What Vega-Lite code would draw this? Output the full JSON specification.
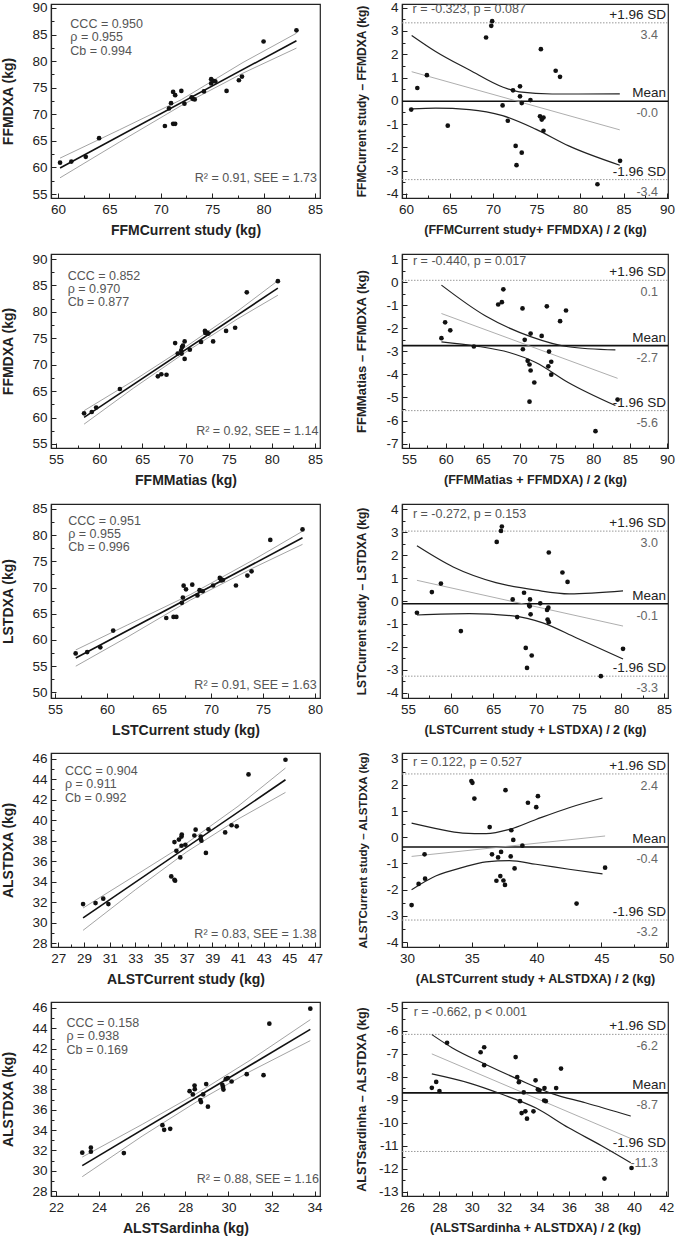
{
"$schema": "https://vega.github.io/schema/vega-lite/v6.json",
"padding": {"left": 0, "top": 0, "right": 0, "bottom": 0},
"config": {
  "font": "Liberation Sans",
  "view": {"stroke": "#222", "strokeWidth": 1.2},
  "axis": {"labelFont": "Liberation Sans", "labelFontSize": 13.5, "labelColor": "#222", "titleFont": "Liberation Sans", "titleFontSize": 14, "titleFontWeight": "bold", "titleColor": "#222", "tickColor": "#222", "domainColor": "#222", "domainWidth": 1.2, "grid": false, "labelPadding": 9, "tickSize": -5, "labelFlush": false, "labelOverlap": false, "titlePadding": 6}
},
"columns": 2,
"spacing": {"row": 12, "column": 30},
"datasets": {
"L1": [
{"k":"pt","x":60.2,"y":60.9},{"k":"pt","x":61.3,"y":61.1},{"k":"pt","x":62.7,"y":62.0},{"k":"pt","x":64.0,"y":65.5},{"k":"pt","x":70.4,"y":67.8},{"k":"pt","x":70.8,"y":71.1},{"k":"pt","x":71.0,"y":72.1},{"k":"pt","x":71.2,"y":74.2},{"k":"pt","x":71.4,"y":73.6},{"k":"pt","x":71.2,"y":68.2},{"k":"pt","x":71.4,"y":68.2},{"k":"pt","x":72.0,"y":74.4},{"k":"pt","x":72.3,"y":72.0},{"k":"pt","x":73.0,"y":73.2},{"k":"pt","x":73.1,"y":72.9},{"k":"pt","x":73.3,"y":72.8},{"k":"pt","x":74.2,"y":74.3},{"k":"pt","x":74.9,"y":76.6},{"k":"pt","x":74.9,"y":75.8},{"k":"pt","x":75.1,"y":76.3},{"k":"pt","x":75.3,"y":76.2},{"k":"pt","x":76.4,"y":74.4},{"k":"pt","x":77.6,"y":76.4},{"k":"pt","x":77.9,"y":77.1},{"k":"pt","x":80.0,"y":83.7},{"k":"pt","x":83.2,"y":85.8},
{"k":"fit","x":60.2,"y":59.9},{"k":"fit","x":83.2,"y":83.85},
{"k":"up","x":60.2,"y":61.75},{"k":"up","x":66,"y":67.1},{"k":"up","x":72,"y":72.75},{"k":"up","x":78,"y":79.75},{"k":"up","x":83.2,"y":85.25},
{"k":"lo","x":60.2,"y":58.05},{"k":"lo","x":66,"y":64.8},{"k":"lo","x":72,"y":71.65},{"k":"lo","x":78,"y":77.75},{"k":"lo","x":83.2,"y":82.45},
{"k":"stat","x":61.2,"y":87.0,"t":"CCC = 0.950"},{"k":"stat","x":61.2,"y":84.5,"t":"ρ = 0.955"},{"k":"stat","x":61.2,"y":82.0,"t":"Cb = 0.994"},
{"k":"r2","x":85.2,"y":58.1,"t":"R² = 0.91, SEE = 1.73"}
],
"R1": [
{"k":"pt","x":60.6,"y":-0.38},{"k":"pt","x":61.3,"y":0.55},{"k":"pt","x":62.4,"y":1.1},{"k":"pt","x":64.8,"y":-1.07},{"k":"pt","x":69.2,"y":2.72},{"k":"pt","x":69.8,"y":3.22},{"k":"pt","x":69.9,"y":3.42},{"k":"pt","x":71.1,"y":-0.2},{"k":"pt","x":71.7,"y":-0.86},{"k":"pt","x":72.3,"y":0.45},{"k":"pt","x":72.6,"y":-1.94},{"k":"pt","x":72.7,"y":-2.77},{"k":"pt","x":73.1,"y":0.62},{"k":"pt","x":73.1,"y":0.19},{"k":"pt","x":73.3,"y":-0.1},{"k":"pt","x":73.3,"y":-2.23},{"k":"pt","x":74.3,"y":0.03},{"k":"pt","x":75.5,"y":2.22},{"k":"pt","x":75.4,"y":-0.67},{"k":"pt","x":75.6,"y":-0.81},{"k":"pt","x":75.8,"y":-0.72},{"k":"pt","x":75.8,"y":-1.29},{"k":"pt","x":77.2,"y":1.29},{"k":"pt","x":77.7,"y":1.03},{"k":"pt","x":82.0,"y":-3.59},{"k":"pt","x":84.6,"y":-2.58},
{"k":"mean","x":59.54,"x2":90.11,"y":-0.02},
{"k":"sd","x":59.54,"x2":90.11,"y":3.35},{"k":"sd","x":59.54,"x2":90.11,"y":-3.39},
{"k":"reg","x":60.65,"y":1.25},{"k":"reg","x":84.57,"y":-1.25},
{"k":"cu","x":60.65,"y":2.81},{"k":"cu","x":63.4,"y":2.12},{"k":"cu","x":67.3,"y":1.32},{"k":"cu","x":71.1,"y":0.59},{"k":"cu","x":73.0,"y":0.38},{"k":"cu","x":76.8,"y":0.29},{"k":"cu","x":84.57,"y":0.3},
{"k":"cl","x":60.65,"y":-0.35},{"k":"cl","x":63.4,"y":-0.32},{"k":"cl","x":67.3,"y":-0.38},{"k":"cl","x":71.1,"y":-0.64},{"k":"cl","x":74.9,"y":-1.22},{"k":"cl","x":78.7,"y":-1.94},{"k":"cl","x":84.57,"y":-2.77},
{"k":"rt","x":60.76,"y":3.93,"t":"r = -0.323, p = 0.087"},
{"k":"lab","x":90.11,"y":3.35,"t":"+1.96 SD"},{"k":"lab","x":90.11,"y":-0.02,"t":"Mean"},{"k":"lab","x":90.11,"y":-3.39,"t":"-1.96 SD"},
{"k":"val","x":90.11,"y":3.35,"t":"3.4"},{"k":"val","x":90.11,"y":-0.02,"t":"-0.0"},{"k":"val","x":90.11,"y":-3.39,"t":"-3.4"}
],
"L2": [
{"k":"pt","x":58.25,"y":60.8},{"k":"pt","x":59.14,"y":61.05},{"k":"pt","x":59.65,"y":61.9},{"k":"pt","x":62.4,"y":65.4},{"k":"pt","x":66.8,"y":67.8},{"k":"pt","x":67.2,"y":68.2},{"k":"pt","x":67.8,"y":68.1},{"k":"pt","x":68.8,"y":74.1},{"k":"pt","x":69.1,"y":72.1},{"k":"pt","x":69.5,"y":72.7},{"k":"pt","x":69.6,"y":73.35},{"k":"pt","x":69.7,"y":73.6},{"k":"pt","x":69.55,"y":72.1},{"k":"pt","x":69.9,"y":74.4},{"k":"pt","x":69.9,"y":71.1},{"k":"pt","x":70.5,"y":72.85},{"k":"pt","x":71.8,"y":74.3},{"k":"pt","x":72.25,"y":76.4},{"k":"pt","x":72.3,"y":76.0},{"k":"pt","x":72.5,"y":76.1},{"k":"pt","x":72.65,"y":75.9},{"k":"pt","x":73.2,"y":74.4},{"k":"pt","x":74.7,"y":76.4},{"k":"pt","x":75.75,"y":77.0},{"k":"pt","x":77.1,"y":83.7},{"k":"pt","x":80.7,"y":85.8},
{"k":"fit","x":58.25,"y":60.05},{"k":"fit","x":80.7,"y":84.5},
{"k":"up","x":58.25,"y":61.3},{"k":"up","x":64,"y":67.0},{"k":"up","x":70,"y":73.35},{"k":"up","x":76,"y":80.1},{"k":"up","x":80.7,"y":85.9},
{"k":"lo","x":58.25,"y":58.75},{"k":"lo","x":64,"y":65.6},{"k":"lo","x":70,"y":72.35},{"k":"lo","x":76,"y":78.65},{"k":"lo","x":80.7,"y":83.15},
{"k":"stat","x":56.35,"y":86.85,"t":"CCC = 0.852"},{"k":"stat","x":56.35,"y":84.3,"t":"ρ = 0.970"},{"k":"stat","x":56.35,"y":81.8,"t":"Cb = 0.877"},
{"k":"r2","x":85.4,"y":57.4,"t":"R² = 0.92, SEE = 1.14"}
],
"R2": [
{"k":"pt","x":59.4,"y":-2.43},{"k":"pt","x":59.9,"y":-1.74},{"k":"pt","x":60.6,"y":-2.09},{"k":"pt","x":63.8,"y":-2.79},{"k":"pt","x":67.1,"y":-0.97},{"k":"pt","x":67.6,"y":-0.87},{"k":"pt","x":67.8,"y":-0.31},{"k":"pt","x":70.4,"y":-1.14},{"k":"pt","x":70.45,"y":-2.91},{"k":"pt","x":70.7,"y":-2.5},{"k":"pt","x":71.1,"y":-3.41},{"k":"pt","x":71.35,"y":-3.57},{"k":"pt","x":71.35,"y":-5.18},{"k":"pt","x":71.5,"y":-3.83},{"k":"pt","x":71.5,"y":-2.23},{"k":"pt","x":72.0,"y":-4.35},{"k":"pt","x":73.0,"y":-2.33},{"k":"pt","x":73.7,"y":-1.05},{"k":"pt","x":74.0,"y":-3.01},{"k":"pt","x":73.9,"y":-3.65},{"k":"pt","x":74.3,"y":-3.45},{"k":"pt","x":74.3,"y":-4.01},{"k":"pt","x":75.5,"y":-1.69},{"k":"pt","x":76.3,"y":-1.23},{"k":"pt","x":80.3,"y":-6.46},{"k":"pt","x":83.3,"y":-5.09},
{"k":"mean","x":54.05,"x2":90.14,"y":-2.75},
{"k":"sd","x":54.05,"x2":90.14,"y":0.08},{"k":"sd","x":54.05,"x2":90.14,"y":-5.57},
{"k":"reg","x":59.4,"y":-1.36},{"k":"reg","x":83.3,"y":-4.17},
{"k":"cu","x":59.4,"y":-0.13},{"k":"cu","x":65.4,"y":-1.47},{"k":"cu","x":71.5,"y":-2.36},{"k":"cu","x":76.6,"y":-2.8},{"k":"cu","x":83.0,"y":-2.94},
{"k":"cl","x":59.4,"y":-2.59},{"k":"cl","x":64.1,"y":-2.77},{"k":"cl","x":68.6,"y":-3.05},{"k":"cl","x":72.2,"y":-3.48},{"k":"cl","x":76.6,"y":-4.35},{"k":"cl","x":83.0,"y":-5.35},
{"k":"rt","x":55.54,"y":0.9,"t":"r = -0.440, p = 0.017"},
{"k":"lab","x":90.14,"y":0.08,"t":"+1.96 SD"},{"k":"lab","x":90.14,"y":-2.75,"t":"Mean"},{"k":"lab","x":90.14,"y":-5.57,"t":"-1.96 SD"},
{"k":"val","x":90.14,"y":0.08,"t":"0.1"},{"k":"val","x":90.14,"y":-2.75,"t":"-2.7"},{"k":"val","x":90.14,"y":-5.57,"t":"-5.6"}
],
"L3": [
{"k":"pt","x":56.99,"y":57.44},{"k":"pt","x":58.1,"y":57.7},{"k":"pt","x":59.36,"y":58.6},{"k":"pt","x":60.6,"y":61.8},{"k":"pt","x":65.7,"y":64.2},{"k":"pt","x":66.4,"y":64.4},{"k":"pt","x":66.67,"y":64.4},{"k":"pt","x":67.2,"y":67.1},{"k":"pt","x":67.3,"y":68.1},{"k":"pt","x":67.37,"y":70.36},{"k":"pt","x":67.6,"y":69.66},{"k":"pt","x":68.2,"y":70.55},{"k":"pt","x":68.7,"y":68.5},{"k":"pt","x":68.9,"y":69.5},{"k":"pt","x":69.2,"y":69.3},{"k":"pt","x":70.2,"y":70.4},{"k":"pt","x":70.85,"y":71.85},{"k":"pt","x":70.95,"y":71.6},{"k":"pt","x":71.0,"y":71.35},{"k":"pt","x":71.15,"y":71.45},{"k":"pt","x":72.4,"y":70.4},{"k":"pt","x":73.5,"y":72.3},{"k":"pt","x":73.9,"y":73.1},{"k":"pt","x":75.7,"y":79.1},{"k":"pt","x":78.8,"y":81.1},
{"k":"fit","x":57.0,"y":56.55},{"k":"fit","x":78.8,"y":79.5},
{"k":"up","x":57,"y":58.1},{"k":"up","x":62,"y":62.9},{"k":"up","x":68,"y":68.65},{"k":"up","x":74,"y":75.2},{"k":"up","x":78.8,"y":80.75},
{"k":"lo","x":57,"y":55.0},{"k":"lo","x":62,"y":60.6},{"k":"lo","x":68,"y":67.6},{"k":"lo","x":74,"y":73.7},{"k":"lo","x":78.8,"y":78.25},
{"k":"stat","x":56.28,"y":82.77,"t":"CCC = 0.951"},{"k":"stat","x":56.28,"y":80.2,"t":"ρ = 0.955"},{"k":"stat","x":56.28,"y":77.7,"t":"Cb = 0.996"},
{"k":"r2","x":80.16,"y":51.4,"t":"R² = 0.91, SEE = 1.63"}
],
"R3": [
{"k":"pt","x":56.05,"y":-0.51},{"k":"pt","x":57.8,"y":0.39},{"k":"pt","x":58.86,"y":0.76},{"k":"pt","x":61.2,"y":-1.31},{"k":"pt","x":65.4,"y":2.57},{"k":"pt","x":65.9,"y":3.05},{"k":"pt","x":66.0,"y":3.24},{"k":"pt","x":67.27,"y":0.07},{"k":"pt","x":67.8,"y":-0.7},{"k":"pt","x":68.6,"y":0.36},{"k":"pt","x":68.8,"y":-2.04},{"k":"pt","x":68.95,"y":-2.91},{"k":"pt","x":69.2,"y":-0.17},{"k":"pt","x":69.26,"y":-0.23},{"k":"pt","x":69.3,"y":0.07},{"k":"pt","x":69.37,"y":-0.58},{"k":"pt","x":69.5,"y":-2.37},{"k":"pt","x":70.5,"y":-0.1},{"k":"pt","x":71.3,"y":-0.39},{"k":"pt","x":71.45,"y":-0.29},{"k":"pt","x":71.36,"y":-0.81},{"k":"pt","x":71.5,"y":-0.92},{"k":"pt","x":71.5,"y":2.11},{"k":"pt","x":73.1,"y":1.24},{"k":"pt","x":73.7,"y":0.83},{"k":"pt","x":77.6,"y":-3.27},{"k":"pt","x":80.2,"y":-2.08},
{"k":"mean","x":54.3,"x2":85.47,"y":-0.12},
{"k":"sd","x":54.3,"x2":85.47,"y":3.04},{"k":"sd","x":54.3,"x2":85.47,"y":-3.27},
{"k":"reg","x":56.05,"y":0.9},{"k":"reg","x":80.2,"y":-1.09},
{"k":"cu","x":56.05,"y":2.4},{"k":"cu","x":60.3,"y":1.48},{"k":"cu","x":65.3,"y":0.8},{"k":"cu","x":70.0,"y":0.47},{"k":"cu","x":73.9,"y":0.31},{"k":"cu","x":80.2,"y":0.44},
{"k":"cl","x":56.05,"y":-0.61},{"k":"cl","x":62.2,"y":-0.55},{"k":"cl","x":67.3,"y":-0.65},{"k":"cl","x":70.8,"y":-0.95},{"k":"cl","x":74.7,"y":-1.6},{"k":"cl","x":80.2,"y":-2.52},
{"k":"rt","x":55.58,"y":3.78,"t":"r = -0.272, p = 0.153"},
{"k":"lab","x":85.47,"y":3.04,"t":"+1.96 SD"},{"k":"lab","x":85.47,"y":-0.12,"t":"Mean"},{"k":"lab","x":85.47,"y":-3.27,"t":"-1.96 SD"},
{"k":"val","x":85.47,"y":3.04,"t":"3.0"},{"k":"val","x":85.47,"y":-0.12,"t":"-0.1"},{"k":"val","x":85.47,"y":-3.27,"t":"-3.3"}
],
"L4": [
{"k":"pt","x":28.93,"y":31.8},{"k":"pt","x":29.9,"y":31.9},{"k":"pt","x":30.5,"y":32.33},{"k":"pt","x":30.9,"y":31.8},{"k":"pt","x":35.8,"y":34.5},{"k":"pt","x":36.05,"y":34.18},{"k":"pt","x":36.1,"y":34.08},{"k":"pt","x":36.05,"y":37.86},{"k":"pt","x":36.2,"y":37.0},{"k":"pt","x":36.4,"y":38.1},{"k":"pt","x":36.5,"y":36.36},{"k":"pt","x":36.6,"y":38.4},{"k":"pt","x":36.62,"y":38.6},{"k":"pt","x":36.6,"y":37.5},{"k":"pt","x":36.9,"y":37.6},{"k":"pt","x":37.6,"y":38.5},{"k":"pt","x":37.7,"y":39.07},{"k":"pt","x":38.1,"y":38.4},{"k":"pt","x":38.1,"y":38.15},{"k":"pt","x":38.15,"y":37.99},{"k":"pt","x":38.5,"y":36.8},{"k":"pt","x":38.7,"y":39.1},{"k":"pt","x":40.0,"y":38.8},{"k":"pt","x":40.5,"y":39.5},{"k":"pt","x":40.9,"y":39.4},{"k":"pt","x":41.82,"y":44.47},{"k":"pt","x":44.7,"y":45.9},
{"k":"fit","x":28.93,"y":30.45},{"k":"fit","x":44.7,"y":43.95},
{"k":"up","x":28.93,"y":31.42},{"k":"up","x":33,"y":34.6},{"k":"up","x":37,"y":37.75},{"k":"up","x":41,"y":41.35},{"k":"up","x":44.7,"y":45.09},
{"k":"lo","x":28.93,"y":29.24},{"k":"lo","x":33,"y":33.2},{"k":"lo","x":37,"y":36.9},{"k":"lo","x":41,"y":40.1},{"k":"lo","x":44.7,"y":42.71},
{"k":"stat","x":27.52,"y":44.76,"t":"CCC = 0.904"},{"k":"stat","x":27.52,"y":43.5,"t":"ρ = 0.911"},{"k":"stat","x":27.52,"y":42.2,"t":"Cb = 0.992"},
{"k":"r2","x":47.13,"y":28.88,"t":"R² = 0.83, SEE = 1.38"}
],
"R4": [
{"k":"pt","x":30.36,"y":-2.59},{"k":"pt","x":30.9,"y":-1.78},{"k":"pt","x":31.36,"y":-0.65},{"k":"pt","x":31.4,"y":-1.58},{"k":"pt","x":34.97,"y":2.15},{"k":"pt","x":35.05,"y":2.08},{"k":"pt","x":35.2,"y":1.48},{"k":"pt","x":36.38,"y":0.39},{"k":"pt","x":36.56,"y":-0.65},{"k":"pt","x":36.9,"y":-1.66},{"k":"pt","x":37.03,"y":-0.77},{"k":"pt","x":37.2,"y":-1.48},{"k":"pt","x":37.26,"y":-0.56},{"k":"pt","x":37.44,"y":-1.65},{"k":"pt","x":37.56,"y":-1.82},{"k":"pt","x":37.6,"y":1.8},{"k":"pt","x":38.0,"y":-0.73},{"k":"pt","x":38.05,"y":0.27},{"k":"pt","x":38.2,"y":-0.1},{"k":"pt","x":38.3,"y":-1.19},{"k":"pt","x":38.9,"y":-0.32},{"k":"pt","x":39.33,"y":1.32},{"k":"pt","x":39.97,"y":1.15},{"k":"pt","x":40.1,"y":1.57},{"k":"pt","x":43.08,"y":-2.53},{"k":"pt","x":45.28,"y":-1.16},
{"k":"mean","x":29.62,"x2":50.13,"y":-0.37},
{"k":"sd","x":29.62,"x2":50.13,"y":2.42},{"k":"sd","x":29.62,"x2":50.13,"y":-3.16},
{"k":"reg","x":30.36,"y":-0.73},{"k":"reg","x":45.28,"y":0.05},
{"k":"cu","x":30.36,"y":0.54},{"k":"cu","x":32.26,"y":0.33},{"k":"cu","x":34.3,"y":0.16},{"k":"cu","x":36.1,"y":0.14},{"k":"cu","x":37.9,"y":0.3},{"k":"cu","x":39.95,"y":0.68},{"k":"cu","x":42.5,"y":1.13},{"k":"cu","x":45.08,"y":1.5},
{"k":"cl","x":30.36,"y":-2.0},{"k":"cl","x":32.26,"y":-1.47},{"k":"cl","x":34.3,"y":-1.15},{"k":"cl","x":36.1,"y":-0.94},{"k":"cl","x":37.9,"y":-0.89},{"k":"cl","x":39.95,"y":-1.03},{"k":"cl","x":42.5,"y":-1.22},{"k":"cl","x":45.08,"y":-1.4},
{"k":"rt","x":30.46,"y":2.86,"t":"r = 0.122, p = 0.527"},
{"k":"lab","x":50.13,"y":2.42,"t":"+1.96 SD"},{"k":"lab","x":50.13,"y":-0.37,"t":"Mean"},{"k":"lab","x":50.13,"y":-3.16,"t":"-1.96 SD"},
{"k":"val","x":50.13,"y":2.42,"t":"2.4"},{"k":"val","x":50.13,"y":-0.37,"t":"-0.4"},{"k":"val","x":50.13,"y":-3.16,"t":"-3.2"}
],
"L5": [
{"k":"pt","x":23.22,"y":31.77},{"k":"pt","x":23.62,"y":32.26},{"k":"pt","x":23.62,"y":31.86},{"k":"pt","x":25.15,"y":31.73},{"k":"pt","x":26.94,"y":34.48},{"k":"pt","x":27.02,"y":34.02},{"k":"pt","x":27.3,"y":34.12},{"k":"pt","x":28.2,"y":37.82},{"k":"pt","x":28.35,"y":37.5},{"k":"pt","x":28.43,"y":38.38},{"k":"pt","x":28.44,"y":38.02},{"k":"pt","x":28.7,"y":36.94},{"k":"pt","x":28.73,"y":36.75},{"k":"pt","x":28.83,"y":37.5},{"k":"pt","x":28.97,"y":38.52},{"k":"pt","x":29.05,"y":36.3},{"k":"pt","x":29.72,"y":38.44},{"k":"pt","x":29.75,"y":38.24},{"k":"pt","x":29.77,"y":37.98},{"k":"pt","x":29.88,"y":39.0},{"k":"pt","x":29.97,"y":39.1},{"k":"pt","x":30.15,"y":38.77},{"k":"pt","x":30.85,"y":39.49},{"k":"pt","x":31.63,"y":39.39},{"k":"pt","x":31.9,"y":44.46},{"k":"pt","x":33.8,"y":45.93},
{"k":"fit","x":23.22,"y":30.5},{"k":"fit","x":33.8,"y":43.9},
{"k":"up","x":23.22,"y":31.34},{"k":"up","x":26,"y":34.55},{"k":"up","x":28.5,"y":37.55},{"k":"up","x":31,"y":40.85},{"k":"up","x":33.8,"y":44.85},
{"k":"lo","x":23.22,"y":29.41},{"k":"lo","x":26,"y":33.4},{"k":"lo","x":28.5,"y":36.74},{"k":"lo","x":31,"y":39.75},{"k":"lo","x":33.8,"y":42.79},
{"k":"stat","x":22.49,"y":44.56,"t":"CCC = 0.158"},{"k":"stat","x":22.49,"y":43.2,"t":"ρ = 0.938"},{"k":"stat","x":22.49,"y":41.9,"t":"Cb = 0.169"},
{"k":"r2","x":34.2,"y":29.15,"t":"R² = 0.88, SEE = 1.16"}
],
"R5": [
{"k":"pt","x":27.53,"y":-8.48},{"k":"pt","x":27.8,"y":-8.22},{"k":"pt","x":28.0,"y":-8.62},{"k":"pt","x":28.47,"y":-6.52},{"k":"pt","x":30.54,"y":-6.93},{"k":"pt","x":30.76,"y":-6.71},{"k":"pt","x":30.76,"y":-7.49},{"k":"pt","x":32.7,"y":-7.14},{"k":"pt","x":32.8,"y":-8.01},{"k":"pt","x":32.9,"y":-8.23},{"k":"pt","x":32.97,"y":-9.06},{"k":"pt","x":33.07,"y":-9.58},{"k":"pt","x":33.2,"y":-8.68},{"k":"pt","x":33.3,"y":-9.5},{"k":"pt","x":33.4,"y":-9.82},{"k":"pt","x":33.8,"y":-9.5},{"k":"pt","x":33.93,"y":-8.15},{"k":"pt","x":34.07,"y":-8.55},{"k":"pt","x":34.17,"y":-8.6},{"k":"pt","x":34.48,"y":-8.49},{"k":"pt","x":34.46,"y":-9.03},{"k":"pt","x":34.56,"y":-9.06},{"k":"pt","x":35.2,"y":-8.49},{"k":"pt","x":35.5,"y":-7.64},{"k":"pt","x":38.18,"y":-12.43},{"k":"pt","x":39.85,"y":-11.97},
{"k":"mean","x":25.69,"x2":42.1,"y":-8.7},
{"k":"sd","x":25.69,"x2":42.1,"y":-6.15},{"k":"sd","x":25.69,"x2":42.1,"y":-11.25},
{"k":"reg","x":27.53,"y":-7.0},{"k":"reg","x":39.85,"y":-10.7},
{"k":"cu","x":27.53,"y":-6.16},{"k":"cu","x":28.8,"y":-6.74},{"k":"cu","x":30.86,"y":-7.46},{"k":"cu","x":32.9,"y":-8.12},{"k":"cu","x":35.0,"y":-8.74},{"k":"cu","x":37.0,"y":-9.13},{"k":"cu","x":39.8,"y":-9.71},
{"k":"cl","x":27.53,"y":-7.87},{"k":"cl","x":29.8,"y":-8.26},{"k":"cl","x":31.9,"y":-8.77},{"k":"cl","x":33.93,"y":-9.35},{"k":"cl","x":35.97,"y":-10.22},{"k":"cl","x":38.0,"y":-11.0},{"k":"cl","x":39.8,"y":-11.74},
{"k":"rt","x":26.41,"y":-5.17,"t":"r = -0.662, p < 0.001"},
{"k":"lab","x":42.1,"y":-6.15,"t":"+1.96 SD"},{"k":"lab","x":42.1,"y":-8.7,"t":"Mean"},{"k":"lab","x":42.1,"y":-11.25,"t":"-1.96 SD"},
{"k":"val","x":42.1,"y":-6.15,"t":"-6.2"},{"k":"val","x":42.1,"y":-8.7,"t":"-8.7"},{"k":"val","x":42.1,"y":-11.25,"t":"-11.3"}
]
},
"concat": [
{"width":269,"height":194,"data":{"name":"L1"},
 "encoding":{
  "x":{"field":"x","type":"quantitative","scale":{"domain":[59.32,85.49],"nice":false,"zero":false},"axis":{"title":"FFMCurrent study (kg)","values":[60,62.5,65,67.5,70,72.5,75,77.5,80,82.5,85],"labelExpr":"datum.value % 5 === 0 ? '' + datum.value : ''","tickSize":{"condition":{"test":"datum.value % 5 !== 0","value":-3},"value":-5}}},
  "y":{"field":"y","type":"quantitative","scale":{"domain":[54.25,90.75],"nice":false,"zero":false},"axis":{"title":"FFMDXA (kg)","titleX":-36,"titleY":97,"values":[55,57.5,60,62.5,65,67.5,70,72.5,75,77.5,80,82.5,85,87.5,90],"labelExpr":"datum.value % 5 === 0 ? '' + datum.value : ''","tickSize":{"condition":{"test":"datum.value % 5 !== 0","value":-3},"value":-5}}}},
 "layer":[
  {"transform":[{"filter":"datum.k === 'up' || datum.k === 'lo'"}],"mark":{"type":"line","stroke":"#8c8c8c","strokeWidth":0.8},"encoding":{"detail":{"field":"k"}}},
  {"transform":[{"filter":"datum.k === 'fit'"}],"mark":{"type":"line","stroke":"#111","strokeWidth":1.6},"encoding":{}},
  {"transform":[{"filter":"datum.k === 'pt'"}],"mark":{"type":"circle","size":22,"color":"#111","opacity":1}},
  {"transform":[{"filter":"datum.k === 'stat'"}],"mark":{"type":"text","align":"left","baseline":"middle","fontSize":12.5,"color":"#555"},"encoding":{"text":{"field":"t"}}},
  {"transform":[{"filter":"datum.k === 'r2'"}],"mark":{"type":"text","align":"right","baseline":"middle","fontSize":12.5,"color":"#555"},"encoding":{"text":{"field":"t"}}}
 ]},
{"width":266,"height":194,"data":{"name":"R1"},
 "encoding":{
  "x":{"field":"x","type":"quantitative","scale":{"domain":[59.54,90.11],"nice":false,"zero":false},"axis":{"title":"(FFMCurrent study+ FFMDXA) / 2 (kg)","titleFontSize":12.5,"values":[60,62.5,65,67.5,70,72.5,75,77.5,80,82.5,85,87.5,90],"labelExpr":"datum.value % 5 === 0 ? '' + datum.value : ''","tickSize":{"condition":{"test":"datum.value % 5 !== 0","value":-3},"value":-5}}},
  "y":{"field":"y","type":"quantitative","scale":{"domain":[-4.18,4.16],"nice":false,"zero":false},"axis":{"title":"FFMCurrent study – FFMDXA (kg)","titleFontSize":12,"titleX":-34,"titleY":97,"values":[-4,-3.5,-3,-2.5,-2,-1.5,-1,-0.5,0,0.5,1,1.5,2,2.5,3,3.5,4],"labelExpr":"datum.value % 1 === 0 ? '' + datum.value : ''","tickSize":{"condition":{"test":"datum.value % 1 !== 0","value":-3},"value":-5}}}},
 "layer":[
  {"transform":[{"filter":"datum.k === 'sd'"}],"mark":{"type":"rule","stroke":"#999","strokeWidth":1,"strokeDash":[1.5,1.5]},"encoding":{"x2":{"field":"x2"}}},
  {"transform":[{"filter":"datum.k === 'mean'"}],"mark":{"type":"rule","stroke":"#111","strokeWidth":1.6},"encoding":{"x2":{"field":"x2"}}},
  {"transform":[{"filter":"datum.k === 'reg'"}],"mark":{"type":"line","stroke":"#999","strokeWidth":0.8},"encoding":{}},
  {"transform":[{"filter":"datum.k === 'cu' || datum.k === 'cl'"}],"mark":{"type":"line","stroke":"#222","strokeWidth":1.2,"interpolate":"monotone"},"encoding":{"detail":{"field":"k"}}},
  {"transform":[{"filter":"datum.k === 'pt'"}],"mark":{"type":"circle","size":22,"color":"#111","opacity":1}},
  {"transform":[{"filter":"datum.k === 'rt'"}],"mark":{"type":"text","align":"left","baseline":"middle","fontSize":12.5,"color":"#555"},"encoding":{"text":{"field":"t"}}},
  {"transform":[{"filter":"datum.k === 'lab'"}],"mark":{"type":"text","align":"right","baseline":"alphabetic","dx":-2,"dy":-4,"fontSize":13.5,"color":"#222"},"encoding":{"text":{"field":"t"}}},
  {"transform":[{"filter":"datum.k === 'val'"}],"mark":{"type":"text","align":"right","baseline":"top","dx":-10,"dy":6,"fontSize":12.5,"color":"#666"},"encoding":{"text":{"field":"t"}}}
 ]},
{"width":269,"height":194,"data":{"name":"L2"},
 "encoding":{
  "x":{"field":"x","type":"quantitative","scale":{"domain":[54.42,85.58],"nice":false,"zero":false},"axis":{"title":"FFMMatias (kg)","values":[55,57.5,60,62.5,65,67.5,70,72.5,75,77.5,80,82.5,85],"labelExpr":"datum.value % 5 === 0 ? '' + datum.value : ''","tickSize":{"condition":{"test":"datum.value % 5 !== 0","value":-3},"value":-5}}},
  "y":{"field":"y","type":"quantitative","scale":{"domain":[54.24,90.95],"nice":false,"zero":false},"axis":{"title":"FFMDXA (kg)","titleX":-36,"titleY":97,"values":[55,57.5,60,62.5,65,67.5,70,72.5,75,77.5,80,82.5,85,87.5,90],"labelExpr":"datum.value % 5 === 0 ? '' + datum.value : ''","tickSize":{"condition":{"test":"datum.value % 5 !== 0","value":-3},"value":-5}}}},
 "layer":[
  {"transform":[{"filter":"datum.k === 'up' || datum.k === 'lo'"}],"mark":{"type":"line","stroke":"#8c8c8c","strokeWidth":0.8},"encoding":{"detail":{"field":"k"}}},
  {"transform":[{"filter":"datum.k === 'fit'"}],"mark":{"type":"line","stroke":"#111","strokeWidth":1.6},"encoding":{}},
  {"transform":[{"filter":"datum.k === 'pt'"}],"mark":{"type":"circle","size":22,"color":"#111","opacity":1}},
  {"transform":[{"filter":"datum.k === 'stat'"}],"mark":{"type":"text","align":"left","baseline":"middle","fontSize":12.5,"color":"#555"},"encoding":{"text":{"field":"t"}}},
  {"transform":[{"filter":"datum.k === 'r2'"}],"mark":{"type":"text","align":"right","baseline":"middle","fontSize":12.5,"color":"#555"},"encoding":{"text":{"field":"t"}}}
 ]},
{"width":266,"height":194,"data":{"name":"R2"},
 "encoding":{
  "x":{"field":"x","type":"quantitative","scale":{"domain":[54.05,90.14],"nice":false,"zero":false},"axis":{"title":"(FFMMatias + FFMDXA) / 2 (kg)","titleFontSize":12.5,"values":[55,57.5,60,62.5,65,67.5,70,72.5,75,77.5,80,82.5,85,87.5,90],"labelExpr":"datum.value % 5 === 0 ? '' + datum.value : ''","tickSize":{"condition":{"test":"datum.value % 5 !== 0","value":-3},"value":-5}}},
  "y":{"field":"y","type":"quantitative","scale":{"domain":[-7.19,1.22],"nice":false,"zero":false},"axis":{"title":"FFMMatias – FFMDXA (kg)","titleFontSize":13,"titleX":-34,"titleY":97,"values":[-7,-6.5,-6,-5.5,-5,-4.5,-4,-3.5,-3,-2.5,-2,-1.5,-1,-0.5,0,0.5,1],"labelExpr":"datum.value % 1 === 0 ? '' + datum.value : ''","tickSize":{"condition":{"test":"datum.value % 1 !== 0","value":-3},"value":-5}}}},
 "layer":[
  {"transform":[{"filter":"datum.k === 'sd'"}],"mark":{"type":"rule","stroke":"#999","strokeWidth":1,"strokeDash":[1.5,1.5]},"encoding":{"x2":{"field":"x2"}}},
  {"transform":[{"filter":"datum.k === 'mean'"}],"mark":{"type":"rule","stroke":"#111","strokeWidth":1.6},"encoding":{"x2":{"field":"x2"}}},
  {"transform":[{"filter":"datum.k === 'reg'"}],"mark":{"type":"line","stroke":"#999","strokeWidth":0.8},"encoding":{}},
  {"transform":[{"filter":"datum.k === 'cu' || datum.k === 'cl'"}],"mark":{"type":"line","stroke":"#222","strokeWidth":1.2,"interpolate":"monotone"},"encoding":{"detail":{"field":"k"}}},
  {"transform":[{"filter":"datum.k === 'pt'"}],"mark":{"type":"circle","size":22,"color":"#111","opacity":1}},
  {"transform":[{"filter":"datum.k === 'rt'"}],"mark":{"type":"text","align":"left","baseline":"middle","fontSize":12.5,"color":"#555"},"encoding":{"text":{"field":"t"}}},
  {"transform":[{"filter":"datum.k === 'lab'"}],"mark":{"type":"text","align":"right","baseline":"alphabetic","dx":-2,"dy":-4,"fontSize":13.5,"color":"#222"},"encoding":{"text":{"field":"t"}}},
  {"transform":[{"filter":"datum.k === 'val'"}],"mark":{"type":"text","align":"right","baseline":"top","dx":-10,"dy":6,"fontSize":12.5,"color":"#666"},"encoding":{"text":{"field":"t"}}}
 ]},
{"width":269,"height":194,"data":{"name":"L3"},
 "encoding":{
  "x":{"field":"x","type":"quantitative","scale":{"domain":[54.62,80.48],"nice":false,"zero":false},"axis":{"title":"LSTCurrent study (kg)","values":[55,57.5,60,62.5,65,67.5,70,72.5,75,77.5,80],"labelExpr":"datum.value % 5 === 0 ? '' + datum.value : ''","tickSize":{"condition":{"test":"datum.value % 5 !== 0","value":-3},"value":-5}}},
  "y":{"field":"y","type":"quantitative","scale":{"domain":[48.93,85.95],"nice":false,"zero":false},"axis":{"title":"LSTDXA (kg)","titleX":-36,"titleY":97,"values":[50,52.5,55,57.5,60,62.5,65,67.5,70,72.5,75,77.5,80,82.5,85],"labelExpr":"datum.value % 5 === 0 ? '' + datum.value : ''","tickSize":{"condition":{"test":"datum.value % 5 !== 0","value":-3},"value":-5}}}},
 "layer":[
  {"transform":[{"filter":"datum.k === 'up' || datum.k === 'lo'"}],"mark":{"type":"line","stroke":"#8c8c8c","strokeWidth":0.8},"encoding":{"detail":{"field":"k"}}},
  {"transform":[{"filter":"datum.k === 'fit'"}],"mark":{"type":"line","stroke":"#111","strokeWidth":1.6},"encoding":{}},
  {"transform":[{"filter":"datum.k === 'pt'"}],"mark":{"type":"circle","size":22,"color":"#111","opacity":1}},
  {"transform":[{"filter":"datum.k === 'stat'"}],"mark":{"type":"text","align":"left","baseline":"middle","fontSize":12.5,"color":"#555"},"encoding":{"text":{"field":"t"}}},
  {"transform":[{"filter":"datum.k === 'r2'"}],"mark":{"type":"text","align":"right","baseline":"middle","fontSize":12.5,"color":"#555"},"encoding":{"text":{"field":"t"}}}
 ]},
{"width":266,"height":194,"data":{"name":"R3"},
 "encoding":{
  "x":{"field":"x","type":"quantitative","scale":{"domain":[54.3,85.47],"nice":false,"zero":false},"axis":{"title":"(LSTCurrent study + LSTDXA) / 2 (kg)","titleFontSize":12.5,"values":[55,57.5,60,62.5,65,67.5,70,72.5,75,77.5,80,82.5,85],"labelExpr":"datum.value % 5 === 0 ? '' + datum.value : ''","tickSize":{"condition":{"test":"datum.value % 5 !== 0","value":-3},"value":-5}}},
  "y":{"field":"y","type":"quantitative","scale":{"domain":[-4.22,4.22],"nice":false,"zero":false},"axis":{"title":"LSTCurrent study – LSTDXA (kg)","titleFontSize":12,"titleX":-34,"titleY":97,"values":[-4,-3.5,-3,-2.5,-2,-1.5,-1,-0.5,0,0.5,1,1.5,2,2.5,3,3.5,4],"labelExpr":"datum.value % 1 === 0 ? '' + datum.value : ''","tickSize":{"condition":{"test":"datum.value % 1 !== 0","value":-3},"value":-5}}}},
 "layer":[
  {"transform":[{"filter":"datum.k === 'sd'"}],"mark":{"type":"rule","stroke":"#999","strokeWidth":1,"strokeDash":[1.5,1.5]},"encoding":{"x2":{"field":"x2"}}},
  {"transform":[{"filter":"datum.k === 'mean'"}],"mark":{"type":"rule","stroke":"#111","strokeWidth":1.6},"encoding":{"x2":{"field":"x2"}}},
  {"transform":[{"filter":"datum.k === 'reg'"}],"mark":{"type":"line","stroke":"#999","strokeWidth":0.8},"encoding":{}},
  {"transform":[{"filter":"datum.k === 'cu' || datum.k === 'cl'"}],"mark":{"type":"line","stroke":"#222","strokeWidth":1.2,"interpolate":"monotone"},"encoding":{"detail":{"field":"k"}}},
  {"transform":[{"filter":"datum.k === 'pt'"}],"mark":{"type":"circle","size":22,"color":"#111","opacity":1}},
  {"transform":[{"filter":"datum.k === 'rt'"}],"mark":{"type":"text","align":"left","baseline":"middle","fontSize":12.5,"color":"#555"},"encoding":{"text":{"field":"t"}}},
  {"transform":[{"filter":"datum.k === 'lab'"}],"mark":{"type":"text","align":"right","baseline":"alphabetic","dx":-2,"dy":-4,"fontSize":13.5,"color":"#222"},"encoding":{"text":{"field":"t"}}},
  {"transform":[{"filter":"datum.k === 'val'"}],"mark":{"type":"text","align":"right","baseline":"top","dx":-10,"dy":6,"fontSize":12.5,"color":"#666"},"encoding":{"text":{"field":"t"}}}
 ]},
{"width":269,"height":194,"data":{"name":"L4"},
 "encoding":{
  "x":{"field":"x","type":"quantitative","scale":{"domain":[26.43,47.39],"nice":false,"zero":false},"axis":{"title":"ALSTCurrent study (kg)","values":[27,28,29,30,31,32,33,34,35,36,37,38,39,40,41,42,43,44,45,46,47],"labelExpr":"datum.value % 2 !== 0 ? '' + datum.value : ''","tickSize":{"condition":{"test":"datum.value % 2 === 0","value":-3},"value":-5}}},
  "y":{"field":"y","type":"quantitative","scale":{"domain":[27.61,46.56],"nice":false,"zero":false},"axis":{"title":"ALSTDXA (kg)","titleX":-36,"titleY":97,"values":[28,29,30,31,32,33,34,35,36,37,38,39,40,41,42,43,44,45,46],"labelExpr":"datum.value % 2 === 0 ? '' + datum.value : ''","tickSize":{"condition":{"test":"datum.value % 2 !== 0","value":-3},"value":-5}}}},
 "layer":[
  {"transform":[{"filter":"datum.k === 'up' || datum.k === 'lo'"}],"mark":{"type":"line","stroke":"#8c8c8c","strokeWidth":0.8},"encoding":{"detail":{"field":"k"}}},
  {"transform":[{"filter":"datum.k === 'fit'"}],"mark":{"type":"line","stroke":"#111","strokeWidth":1.6},"encoding":{}},
  {"transform":[{"filter":"datum.k === 'pt'"}],"mark":{"type":"circle","size":22,"color":"#111","opacity":1}},
  {"transform":[{"filter":"datum.k === 'stat'"}],"mark":{"type":"text","align":"left","baseline":"middle","fontSize":12.5,"color":"#555"},"encoding":{"text":{"field":"t"}}},
  {"transform":[{"filter":"datum.k === 'r2'"}],"mark":{"type":"text","align":"right","baseline":"middle","fontSize":12.5,"color":"#555"},"encoding":{"text":{"field":"t"}}}
 ]},
{"width":266,"height":194,"data":{"name":"R4"},
 "encoding":{
  "x":{"field":"x","type":"quantitative","scale":{"domain":[29.62,50.13],"nice":false,"zero":false},"axis":{"title":"(ALSTCurrent study + ALSTDXA) / 2 (kg)","titleFontSize":12.5,"values":[30,32.5,35,37.5,40,42.5,45,47.5,50],"labelExpr":"datum.value % 5 === 0 ? '' + datum.value : ''","tickSize":{"condition":{"test":"datum.value % 5 !== 0","value":-3},"value":-5}}},
  "y":{"field":"y","type":"quantitative","scale":{"domain":[-4.19,3.22],"nice":false,"zero":false},"axis":{"title":"ALSTCurrent study – ALSTDXA (kg)","titleFontSize":11.5,"titleX":-34,"titleY":97,"values":[-4,-3.5,-3,-2.5,-2,-1.5,-1,-0.5,0,0.5,1,1.5,2,2.5,3],"labelExpr":"datum.value % 1 === 0 ? '' + datum.value : ''","tickSize":{"condition":{"test":"datum.value % 1 !== 0","value":-3},"value":-5}}}},
 "layer":[
  {"transform":[{"filter":"datum.k === 'sd'"}],"mark":{"type":"rule","stroke":"#999","strokeWidth":1,"strokeDash":[1.5,1.5]},"encoding":{"x2":{"field":"x2"}}},
  {"transform":[{"filter":"datum.k === 'mean'"}],"mark":{"type":"rule","stroke":"#111","strokeWidth":1.6},"encoding":{"x2":{"field":"x2"}}},
  {"transform":[{"filter":"datum.k === 'reg'"}],"mark":{"type":"line","stroke":"#999","strokeWidth":0.8},"encoding":{}},
  {"transform":[{"filter":"datum.k === 'cu' || datum.k === 'cl'"}],"mark":{"type":"line","stroke":"#222","strokeWidth":1.2,"interpolate":"monotone"},"encoding":{"detail":{"field":"k"}}},
  {"transform":[{"filter":"datum.k === 'pt'"}],"mark":{"type":"circle","size":22,"color":"#111","opacity":1}},
  {"transform":[{"filter":"datum.k === 'rt'"}],"mark":{"type":"text","align":"left","baseline":"middle","fontSize":12.5,"color":"#555"},"encoding":{"text":{"field":"t"}}},
  {"transform":[{"filter":"datum.k === 'lab'"}],"mark":{"type":"text","align":"right","baseline":"alphabetic","dx":-2,"dy":-4,"fontSize":13.5,"color":"#222"},"encoding":{"text":{"field":"t"}}},
  {"transform":[{"filter":"datum.k === 'val'"}],"mark":{"type":"text","align":"right","baseline":"top","dx":-10,"dy":6,"fontSize":12.5,"color":"#666"},"encoding":{"text":{"field":"t"}}}
 ]},
{"width":269,"height":194,"data":{"name":"L5"},
 "encoding":{
  "x":{"field":"x","type":"quantitative","scale":{"domain":[21.77,34.25],"nice":false,"zero":false},"axis":{"title":"ALSTSardinha (kg)","values":[22,23,24,25,26,27,28,29,30,31,32,33,34],"labelExpr":"datum.value % 2 === 0 ? '' + datum.value : ''","tickSize":{"condition":{"test":"datum.value % 2 !== 0","value":-3},"value":-5}}},
  "y":{"field":"y","type":"quantitative","scale":{"domain":[27.51,46.59],"nice":false,"zero":false},"axis":{"title":"ALSTDXA (kg)","titleX":-36,"titleY":97,"values":[28,29,30,31,32,33,34,35,36,37,38,39,40,41,42,43,44,45,46],"labelExpr":"datum.value % 2 === 0 ? '' + datum.value : ''","tickSize":{"condition":{"test":"datum.value % 2 !== 0","value":-3},"value":-5}}}},
 "layer":[
  {"transform":[{"filter":"datum.k === 'up' || datum.k === 'lo'"}],"mark":{"type":"line","stroke":"#8c8c8c","strokeWidth":0.8},"encoding":{"detail":{"field":"k"}}},
  {"transform":[{"filter":"datum.k === 'fit'"}],"mark":{"type":"line","stroke":"#111","strokeWidth":1.6},"encoding":{}},
  {"transform":[{"filter":"datum.k === 'pt'"}],"mark":{"type":"circle","size":22,"color":"#111","opacity":1}},
  {"transform":[{"filter":"datum.k === 'stat'"}],"mark":{"type":"text","align":"left","baseline":"middle","fontSize":12.5,"color":"#555"},"encoding":{"text":{"field":"t"}}},
  {"transform":[{"filter":"datum.k === 'r2'"}],"mark":{"type":"text","align":"right","baseline":"middle","fontSize":12.5,"color":"#555"},"encoding":{"text":{"field":"t"}}}
 ]},
{"width":266,"height":194,"data":{"name":"R5"},
 "encoding":{
  "x":{"field":"x","type":"quantitative","scale":{"domain":[25.69,42.1],"nice":false,"zero":false},"axis":{"title":"(ALSTSardinha + ALSTDXA) / 2 (kg)","titleFontSize":12.5,"values":[26,27,28,29,30,31,32,33,34,35,36,37,38,39,40,41,42],"labelExpr":"datum.value % 2 === 0 ? '' + datum.value : ''","tickSize":{"condition":{"test":"datum.value % 2 !== 0","value":-3},"value":-5}}},
  "y":{"field":"y","type":"quantitative","scale":{"domain":[-13.19,-4.74],"nice":false,"zero":false},"axis":{"title":"ALSTSardinha – ALSTDXA (kg)","titleFontSize":12.5,"titleX":-34,"titleY":97,"values":[-13,-12.5,-12,-11.5,-11,-10.5,-10,-9.5,-9,-8.5,-8,-7.5,-7,-6.5,-6,-5.5,-5],"labelExpr":"datum.value % 1 === 0 ? '' + datum.value : ''","tickSize":{"condition":{"test":"datum.value % 1 !== 0","value":-3},"value":-5}}}},
 "layer":[
  {"transform":[{"filter":"datum.k === 'sd'"}],"mark":{"type":"rule","stroke":"#999","strokeWidth":1,"strokeDash":[1.5,1.5]},"encoding":{"x2":{"field":"x2"}}},
  {"transform":[{"filter":"datum.k === 'mean'"}],"mark":{"type":"rule","stroke":"#111","strokeWidth":1.6},"encoding":{"x2":{"field":"x2"}}},
  {"transform":[{"filter":"datum.k === 'reg'"}],"mark":{"type":"line","stroke":"#999","strokeWidth":0.8},"encoding":{}},
  {"transform":[{"filter":"datum.k === 'cu' || datum.k === 'cl'"}],"mark":{"type":"line","stroke":"#222","strokeWidth":1.2,"interpolate":"monotone"},"encoding":{"detail":{"field":"k"}}},
  {"transform":[{"filter":"datum.k === 'pt'"}],"mark":{"type":"circle","size":22,"color":"#111","opacity":1}},
  {"transform":[{"filter":"datum.k === 'rt'"}],"mark":{"type":"text","align":"left","baseline":"middle","fontSize":12.5,"color":"#555"},"encoding":{"text":{"field":"t"}}},
  {"transform":[{"filter":"datum.k === 'lab'"}],"mark":{"type":"text","align":"right","baseline":"alphabetic","dx":-2,"dy":-4,"fontSize":13.5,"color":"#222"},"encoding":{"text":{"field":"t"}}},
  {"transform":[{"filter":"datum.k === 'val'"}],"mark":{"type":"text","align":"right","baseline":"top","dx":-10,"dy":6,"fontSize":12.5,"color":"#666"},"encoding":{"text":{"field":"t"}}}
 ]}
]
}
